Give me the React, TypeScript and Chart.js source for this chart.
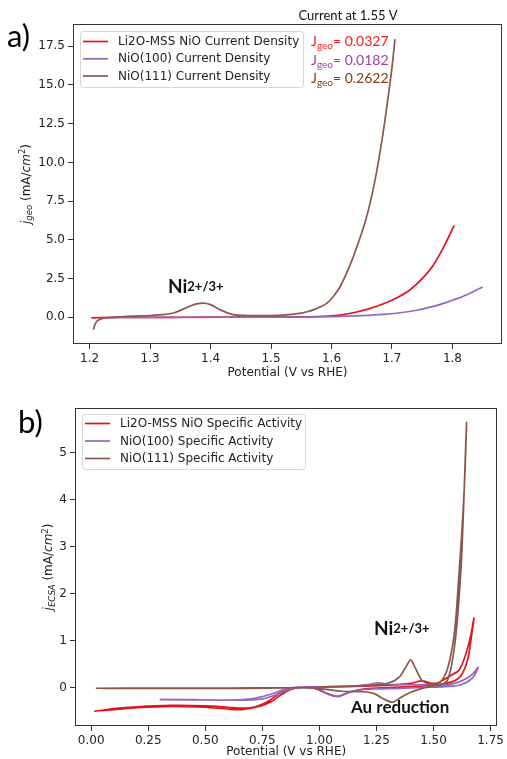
import React, { useEffect, useRef } from "react";
import { Chart, registerables } from "chart.js";
Chart.register(...registerables);

// ---------------- data ----------------
const labelsTop = ["Li2O-MSS NiO Current Density", "NiO(100) Current Density", "NiO(111) Current Density"];
const labelsBot = ["Li2O-MSS NiO Specific Activity", "NiO(100) Specific Activity", "NiO(111) Specific Activity"];
const seriesColors = ["#e3121b", "#9467bd", "#8c564b"];

const topXTicks = [1.2, 1.3, 1.4, 1.5, 1.6, 1.7, 1.8];
const topYTicks = [0, 2.5, 5, 7.5, 10, 12.5, 15, 17.5];
const botXTicks = [0, 0.25, 0.5, 0.75, 1.0, 1.25, 1.5, 1.75];
const botYTicks = [0, 1, 2, 3, 4, 5];

// (a) linear sweeps
const redLsvV = [1.203, 1.25, 1.3, 1.35, 1.4, 1.45, 1.5, 1.55, 1.575, 1.6, 1.62, 1.64, 1.66, 1.686, 1.71, 1.73, 1.75, 1.768, 1.785, 1.803];
const redLsvJ = [-0.03, -0.01, 0.0, 0.005, 0.01, 0.015, 0.02, 0.033, 0.05, 0.09, 0.18, 0.33, 0.53, 0.88, 1.3, 1.78, 2.5, 3.35, 4.5, 5.94];
const purLsvV = [1.219, 1.25, 1.3, 1.4, 1.5, 1.55, 1.6, 1.65, 1.686, 1.72, 1.741, 1.77, 1.796, 1.825, 1.85];
const purLsvJ = [-0.02, -0.01, 0.0, 0.005, 0.01, 0.018, 0.05, 0.11, 0.19, 0.33, 0.46, 0.72, 1.05, 1.48, 1.96];
const brnLsvV = [1.2066, 1.208, 1.211, 1.216, 1.223, 1.235, 1.25, 1.27, 1.3, 1.32, 1.34, 1.36, 1.375, 1.388, 1.4, 1.415, 1.437, 1.46, 1.5, 1.53, 1.55, 1.56, 1.57, 1.58, 1.592, 1.603, 1.614, 1.625, 1.636, 1.645, 1.655, 1.664, 1.672, 1.68, 1.688, 1.695, 1.7, 1.705];
const brnLsvJ = [-0.79, -0.55, -0.3, -0.15, -0.05, 0.0, 0.04, 0.08, 0.12, 0.17, 0.3, 0.62, 0.85, 0.92, 0.82, 0.5, 0.18, 0.12, 0.11, 0.17, 0.27, 0.36, 0.48, 0.65, 0.9, 1.35, 1.96, 2.85, 3.9, 4.9, 6.05, 7.4, 8.85, 10.6, 12.6, 14.6, 16.1, 17.95];

// (b) cyclic sweeps (forward then reverse)
const redCvV = [0.013, 0.1, 0.2, 0.35, 0.5, 0.6, 0.66, 0.72, 0.78, 0.82, 0.86, 0.9, 1.0, 1.1, 1.2, 1.3, 1.4, 1.45, 1.49, 1.52, 1.55, 1.58, 1.61, 1.63, 1.65, 1.665, 1.677,
  1.665, 1.65, 1.62, 1.58, 1.5, 1.4, 1.3, 1.2, 1.13, 1.08, 1.03, 0.98, 0.92, 0.87, 0.83, 0.79, 0.74, 0.66, 0.6, 0.5, 0.35, 0.2, 0.1, 0.02];
const redCvJ = [-0.51, -0.45, -0.41, -0.38, -0.39, -0.42, -0.44, -0.41, -0.28, -0.14, -0.04, 0.0, 0.01, 0.02, 0.03, 0.05, 0.09, 0.14, 0.09, 0.1, 0.18, 0.27, 0.36, 0.55, 0.85, 1.15, 1.48,
  1.05, 0.6, 0.25, 0.12, 0.05, 0.02, 0.0, -0.03, -0.1, -0.19, -0.12, -0.02, 0.0, -0.05, -0.16, -0.3, -0.4, -0.47, -0.46, -0.42, -0.4, -0.43, -0.47, -0.5];
const purCvV = [0.3, 0.45, 0.6, 0.7, 0.76, 0.8, 0.84, 0.88, 0.95, 1.05, 1.15, 1.22, 1.26, 1.3, 1.4, 1.5, 1.56, 1.6, 1.64, 1.67, 1.696,
  1.67, 1.62, 1.55, 1.45, 1.35, 1.25, 1.18, 1.12, 1.08, 1.04, 1.0, 0.95, 0.9, 0.85, 0.8, 0.75, 0.65, 0.5, 0.3];
const purCvJ = [-0.255, -0.26, -0.27, -0.24, -0.18, -0.12, -0.05, 0.0, 0.01, 0.02, 0.03, 0.07, 0.1, 0.07, 0.06, 0.06, 0.06, 0.1, 0.18, 0.28, 0.43,
  0.2, 0.06, 0.02, 0.0, -0.02, -0.03, -0.05, -0.12, -0.19, -0.15, -0.04, 0.0, -0.01, -0.07, -0.17, -0.24, -0.27, -0.265, -0.26];
const brnCvV = [0.02, 0.3, 0.6, 0.85, 0.95, 1.05, 1.2, 1.3, 1.35, 1.38, 1.4, 1.42, 1.45, 1.49, 1.53, 1.56, 1.58, 1.59, 1.6, 1.61, 1.62, 1.63, 1.638, 1.645,
  1.64, 1.63, 1.62, 1.6, 1.58, 1.56, 1.53, 1.49, 1.45, 1.4, 1.36, 1.32, 1.28, 1.24, 1.19, 1.1, 1.03, 0.95, 0.85, 0.5, 0.05];
const brnCvJ = [-0.015, -0.01, -0.01, -0.005, 0.0, 0.02, 0.04, 0.09, 0.22, 0.45, 0.59, 0.42, 0.15, 0.07, 0.12, 0.38, 0.8, 1.1, 1.6, 2.3, 3.0, 3.8, 4.6, 5.65,
  5.0, 3.6, 2.5, 1.2, 0.5, 0.15, 0.05, 0.03, -0.02, -0.1, -0.2, -0.31, -0.24, -0.13, -0.09, -0.08, -0.04, 0.0, -0.01, -0.02, -0.02];

// ---------------- helpers ----------------
const pts = (xs: number[], ys: number[]) => xs.map((x, i) => ({ x, y: ys[i] }));

type Seg = { t: string; font: string; dy?: number; color?: string };
function drawRich(ctx: CanvasRenderingContext2D, segs: Seg[], x: number, y: number, rot: number, align: "left" | "center", color: string) {
  ctx.save();
  ctx.translate(x, y);
  ctx.rotate(rot);
  ctx.textAlign = "left";
  ctx.textBaseline = "alphabetic";
  let w = 0;
  for (const s of segs) { ctx.font = s.font; w += ctx.measureText(s.t).width; }
  let cx = align === "center" ? -w / 2 : 0;
  for (const s of segs) {
    ctx.font = s.font;
    ctx.fillStyle = s.color || color;
    ctx.fillText(s.t, cx, s.dy || 0);
    cx += ctx.measureText(s.t).width;
  }
  ctx.restore();
}

const TICK_FONT = { family: "DejaVu Sans", size: 12 };

function axis(min: number, max: number, ticks: number[], dec: number, fit: number, isX: boolean, titlePad: number) {
  return {
    type: "linear" as const,
    min, max,
    bounds: "data" as const,
    afterBuildTicks: (ax: any) => { ax.ticks = ticks.map((v) => ({ value: v })); },
    afterFit: (ax: any) => { if (isX) ax.height = fit; else ax.width = fit; },
    ticks: { callback: (v: any) => Number(v).toFixed(dec), font: TICK_FONT, color: "#222", padding: 3, maxRotation: 0, autoSkip: false },
    grid: { display: true, drawOnChartArea: false, drawTicks: true, tickLength: 5, color: "#333", lineWidth: 1 },
    border: { display: false },
    title: isX
      ? { display: true, text: "Potential (V vs RHE)", font: TICK_FONT, color: "#222", padding: { top: 0, bottom: titlePad } }
      : { display: false },
  };
}

function dataset(label: string, data: any[], color: string, order: number, mono: boolean) {
  return {
    label, data, showLine: true, borderColor: color, backgroundColor: color, borderWidth: 1.7,
    pointRadius: 0, pointHoverRadius: 0, fill: false, order,
    tension: mono ? 0 : 0.3,
    cubicInterpolationMode: mono ? ("monotone" as const) : ("default" as const),
  };
}

function legendAndFrame(id: string, box: { x: number; y: number; w: number; h: number; rows: number[]; hx: number; tx: number }, extra: (ctx: CanvasRenderingContext2D) => void) {
  return {
    id,
    afterDatasetsDraw(chart: any) {
      const { ctx, chartArea: a } = chart;
      ctx.save();
      ctx.strokeStyle = "#333";
      ctx.lineWidth = 1;
      ctx.strokeRect(Math.round(a.left) + 0.5, Math.round(a.top) + 0.5, Math.round(a.right - a.left) - 1, Math.round(a.bottom - a.top) - 1);
      // legend
      const r = 3;
      ctx.beginPath();
      ctx.moveTo(box.x + r, box.y);
      ctx.arcTo(box.x + box.w, box.y, box.x + box.w, box.y + box.h, r);
      ctx.arcTo(box.x + box.w, box.y + box.h, box.x, box.y + box.h, r);
      ctx.arcTo(box.x, box.y + box.h, box.x, box.y, r);
      ctx.arcTo(box.x, box.y, box.x + box.w, box.y, r);
      ctx.closePath();
      ctx.fillStyle = "rgba(255,255,255,0.85)";
      ctx.fill();
      ctx.strokeStyle = "#d6d6d6";
      ctx.stroke();
      chart.data.datasets.forEach((ds: any, i: number) => {
        const yy = box.rows[i];
        ctx.strokeStyle = ds.borderColor;
        ctx.lineWidth = 1.7;
        ctx.beginPath();
        ctx.moveTo(box.hx, yy);
        ctx.lineTo(box.hx + 25, yy);
        ctx.stroke();
        ctx.fillStyle = "#222";
        ctx.font = `${TICK_FONT.size}px "${TICK_FONT.family}"`;
        ctx.textBaseline = "middle";
        ctx.textAlign = "left";
        ctx.fillText(ds.label, box.tx, yy + 0.5);
      });
      extra(ctx);
      ctx.restore();
    },
  };
}

const F = (size: number, style = "", fam = "DejaVu Sans") => `${style} ${size}px "${fam}"`.trim();

function topConfig(): any {
  const extra = (ctx: CanvasRenderingContext2D) => {
    drawRich(ctx, [{ t: "a)", font: F(31, "", "Lato") }], 7, 47, 0, "left", "#000");
    drawRich(ctx, [{ t: "Current at 1.55 V", font: F(13, "", "Lato") }], 348, 20, 0, "center", "#111");
    const notes: [string, string, number][] = [["0.0327", "#ff1a1a", 46], ["0.0182", "#a33cb0", 64.5], ["0.2622", "#843c0c", 83]];
    notes.forEach(([v, c, y]) =>
      drawRich(ctx, [
        { t: "J", font: F(14, "", "Lato") },
        { t: "geo", font: F(10, "", "Lato"), dy: 3 },
        { t: "= " + v, font: F(14, "", "Lato") },
      ], 311, y, 0, "left", c));
    drawRich(ctx, [{ t: "Ni", font: F(19, "bold", "Lato") }, { t: "2+/3+", font: F(13, "bold", "Lato"), dy: -2 }], 168, 293, 0, "left", "#111");
    drawRich(ctx, [
      { t: "j", font: F(12, "italic") },
      { t: "geo", font: F(8.5, "italic"), dy: 2.5 },
      { t: " (mA/", font: F(12) },
      { t: "cm", font: F(12, "italic") },
      { t: "2", font: F(8.5), dy: -4.5 },
      { t: ")", font: F(12) },
    ], 29.5, 184, -Math.PI / 2, "center", "#222");
  };
  return {
    type: "scatter",
    data: {
      datasets: [
        dataset(labelsTop[0], pts(redLsvV, redLsvJ), seriesColors[0], 3, true),
        dataset(labelsTop[1], pts(purLsvV, purLsvJ), seriesColors[1], 2, true),
        dataset(labelsTop[2], pts(brnLsvV, brnLsvJ), seriesColors[2], 1, true),
      ],
    },
    options: {
      animation: false, responsive: false, devicePixelRatio: 1,
      layout: { padding: { top: 24, right: 5, left: 0, bottom: 0 } },
      plugins: { legend: { display: false }, tooltip: { enabled: false } },
      scales: {
        x: axis(1.1725, 1.882, topXTicks, 1, 36, true, 0),
        y: axis(-1.72, 18.93, topYTicks, 1, 73, false, 0),
      },
    },
    plugins: [legendAndFrame("deco", { x: 80.5, y: 31.5, w: 223, h: 56, rows: [41.5, 58.8, 76], hx: 83, tx: 118 }, extra)],
  };
}

function botConfig(): any {
  const extra = (ctx: CanvasRenderingContext2D) => {
    drawRich(ctx, [{ t: "b)", font: F(31, "", "Lato") }], 18, 53, 0, "left", "#000");
    drawRich(ctx, [{ t: "Ni", font: F(19, "bold", "Lato") }, { t: "2+/3+", font: F(13, "bold", "Lato"), dy: -2 }], 374, 255, 0, "left", "#111");
    drawRich(ctx, [{ t: "Au reduction", font: F(17, "bold", "Lato") }], 351, 333, 0, "left", "#111");
    drawRich(ctx, [
      { t: "j", font: F(12, "italic") },
      { t: "ECSA", font: F(8.5, "italic"), dy: 2.5 },
      { t: " (mA/", font: F(12) },
      { t: "cm", font: F(12, "italic") },
      { t: "2", font: F(8.5), dy: -4.5 },
      { t: ")", font: F(12) },
    ], 52, 187, -Math.PI / 2, "center", "#222");
  };
  return {
    type: "scatter",
    data: {
      datasets: [
        dataset(labelsBot[0], pts(redCvV, redCvJ), seriesColors[0], 3, false),
        dataset(labelsBot[1], pts(purCvV, purCvJ), seriesColors[1], 2, false),
        dataset(labelsBot[2], pts(brnCvV, brnCvJ), seriesColors[2], 1, false),
      ],
    },
    options: {
      animation: false, responsive: false, devicePixelRatio: 1,
      layout: { padding: { top: 28, right: 5, left: 0, bottom: 0 } },
      plugins: { legend: { display: false }, tooltip: { enabled: false } },
      scales: {
        x: axis(-0.071, 1.78, botXTicks, 2, 33, true, 0),
        y: axis(-0.82, 5.957, botYTicks, 0, 75, false, 0),
      },
    },
    plugins: [legendAndFrame("deco", { x: 82.5, y: 34.5, w: 223, h: 55, rows: [43.5, 61, 78.5], hx: 85, tx: 120 }, extra)],
  };
}

export default function App() {
  const topRef = useRef<HTMLCanvasElement>(null);
  const botRef = useRef<HTMLCanvasElement>(null);
  useEffect(() => {
    const c1 = new Chart(topRef.current as HTMLCanvasElement, topConfig());
    const c2 = new Chart(botRef.current as HTMLCanvasElement, botConfig());
    return () => { c1.destroy(); c2.destroy(); };
  }, []);
  return (
    <div style={{ position: "absolute", left: 0, top: 0, width: 507, height: 759, background: "#fff" }}>
      <canvas ref={topRef} width={507} height={380} style={{ display: "block" }} />
      <canvas ref={botRef} width={507} height={379} style={{ display: "block" }} />
    </div>
  );
}
